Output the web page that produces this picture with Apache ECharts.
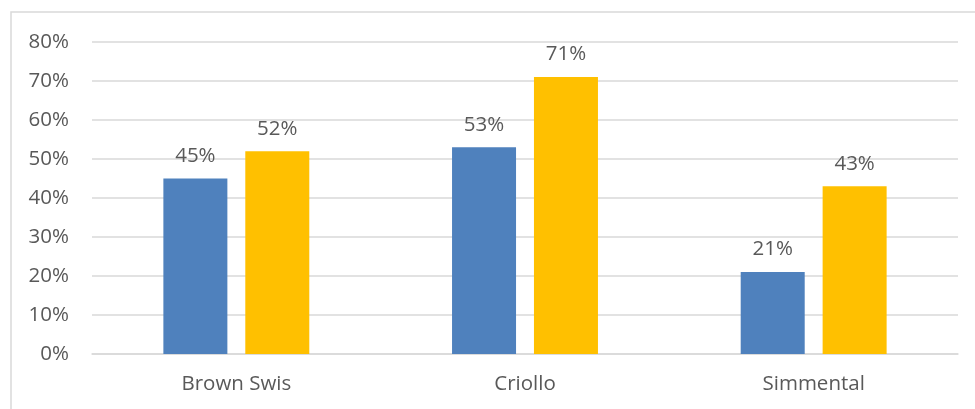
<!DOCTYPE html>
<html>
<head>
<meta charset="utf-8">
<script src="https://cdn.jsdelivr.net/npm/echarts@6/dist/echarts.min.js"></script>
<style>
  html, body { margin: 0; padding: 0; background: #ffffff; }
  #chart { width: 975px; height: 409px; }
</style>
</head>
<body>
<div id="chart"></div>
<script>
// Breeds on the category axis
var categories = ['Brown Swis', 'Criollo', 'Simmental'];
// Percent values for the two series (blue, gold)
var seriesBlue = [45, 53, 21];
var seriesGold = [52, 71, 43];
// Value axis range and step, in percent
var yMin = 0;
var yMax = 80;
var yStep = 10;

var textColor = '#595959';
var gridColor = '#d9d9d9';
var fontFamily = '"Open Sans", "Liberation Sans", sans-serif';
var fontSize = 20.5;

var chart = echarts.init(document.getElementById('chart'), null, { renderer: 'canvas' });

var labelStyle = {
  show: true,
  position: 'top',
  distance: 12,
  color: textColor,
  fontSize: fontSize,
  fontFamily: fontFamily,
  formatter: function (p) { return p.value + '%'; }
};

chart.setOption({
  animation: false,
  backgroundColor: '#ffffff',
  graphic: [{
    type: 'rect',
    shape: { x: 11, y: 12, width: 1200, height: 1000 },
    style: { fill: 'none', stroke: gridColor, lineWidth: 1.5 },
    silent: true,
    z: 0
  }],
  grid: { left: 92, right: 17, top: 42, bottom: 55, containLabel: false },
  xAxis: {
    type: 'category',
    data: categories,
    axisTick: { show: false },
    axisLine: { show: true, lineStyle: { color: gridColor, width: 1.5 } },
    axisLabel: { color: textColor, fontSize: fontSize, fontFamily: fontFamily, margin: 20 }
  },
  yAxis: {
    type: 'value',
    min: yMin,
    max: yMax,
    interval: yStep,
    axisLine: { show: false },
    axisTick: { show: false },
    splitLine: { lineStyle: { color: gridColor, width: 1.5 } },
    axisLabel: {
      color: textColor, fontSize: fontSize, fontFamily: fontFamily, margin: 23,
      formatter: '{value}%'
    }
  },
  series: [
    {
      type: 'bar',
      data: seriesBlue,
      barWidth: 64,
      barGap: '28%',
      itemStyle: { color: '#4f81bd' },
      label: labelStyle
    },
    {
      type: 'bar',
      data: seriesGold,
      barWidth: 64,
      itemStyle: { color: '#ffc000' },
      label: labelStyle
    }
  ]
});
</script>
</body>
</html>
